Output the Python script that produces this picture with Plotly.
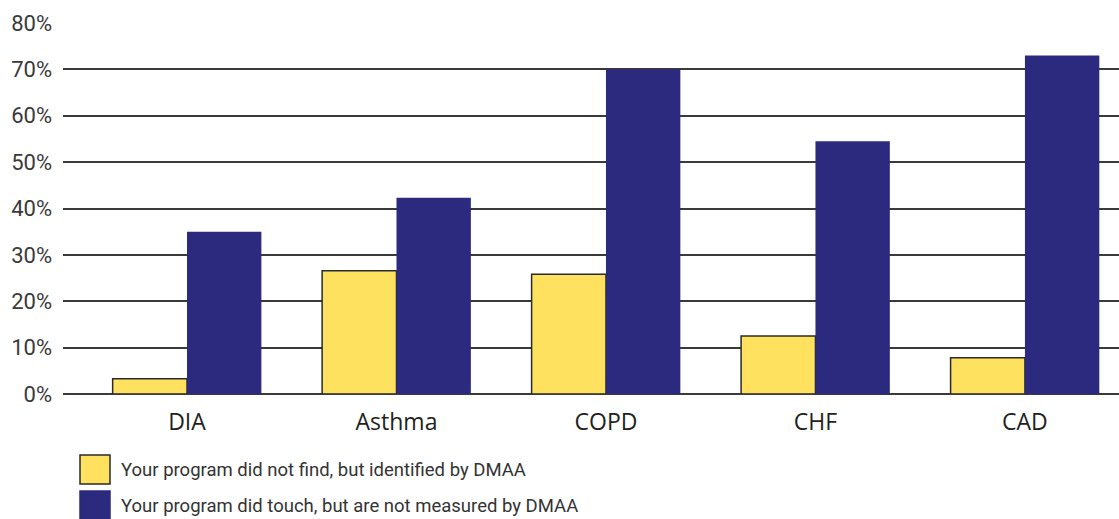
import plotly.graph_objects as go

categories = ["DIA", "Asthma", "COPD", "CHF", "CAD"]
not_found = [3.3, 26.6, 25.8, 12.5, 7.8]
not_measured = [35.0, 42.3, 70.0, 54.5, 73.0]
series_names = [
    "Your program did not find, but identified by DMAA",
    "Your program did touch, but are not measured by DMAA",
]
y_ticks = [0, 10, 20, 30, 40, 50, 60, 70, 80]

YELLOW = "#FDE15F"
NAVY = "#2B2A7F"

x = list(range(len(categories)))
fig = go.Figure()
fig.add_trace(go.Bar(
    x=x, y=not_found, name=series_names[0],
    marker=dict(color=YELLOW, line=dict(color="#2a2a2a", width=1.5)),
))
fig.add_trace(go.Bar(
    x=x, y=not_measured, name=series_names[1],
    marker=dict(color=NAVY, line=dict(width=0)),
))

fig.update_layout(
    width=1119, height=519,
    margin=dict(l=63, r=0, t=23, b=125),
    plot_bgcolor="white", paper_bgcolor="white",
    barmode="group", bargap=0.29, bargroupgap=0,
    showlegend=False,
    xaxis=dict(
        range=[-0.592, 4.449], tickmode="array", tickvals=x, ticktext=categories,
        showgrid=False, zeroline=False, showline=False, ticks="",
        tickfont=dict(family="Open Sans, sans-serif", size=23, color="#231f20"),
        ticklabelstandoff=12,
    ),
    yaxis=dict(
        range=[0, 80], tickmode="array", tickvals=y_ticks,
        ticktext=[f"{v}%" for v in y_ticks],
        showgrid=True, gridcolor="#3a3a3a", gridwidth=2,
        zeroline=True, zerolinecolor="#3a3a3a", zerolinewidth=2,
        showline=False, ticks="",
        tickfont=dict(family="Roboto, sans-serif", size=22, color="#3a3a3a"),
        ticklabelstandoff=10,
    ),
)

# legend swatches and labels below the plot
swatches = [(YELLOW, "#2a2a2a"), (NAVY, NAVY)]
for i, (name, (fill, edge)) in enumerate(zip(series_names, swatches)):
    y0 = 455 + i * 36
    fig.add_shape(
        type="rect", xref="paper", yref="paper",
        x0=(80 - 63) / 1056, x1=(110 - 63) / 1056,
        y0=(394 - (y0 + 29)) / 371, y1=(394 - y0) / 371,
        fillcolor=fill, line=dict(color=edge, width=1.5),
    )
    fig.add_annotation(
        text=name, xref="paper", yref="paper",
        x=(119 - 63) / 1056, y=(394 - (y0 + 14.5)) / 371,
        xanchor="left", yanchor="middle", showarrow=False,
        font=dict(family="Roboto, sans-serif", size=18.5, color="#333333"),
    )

fig.write_html("out.html")
